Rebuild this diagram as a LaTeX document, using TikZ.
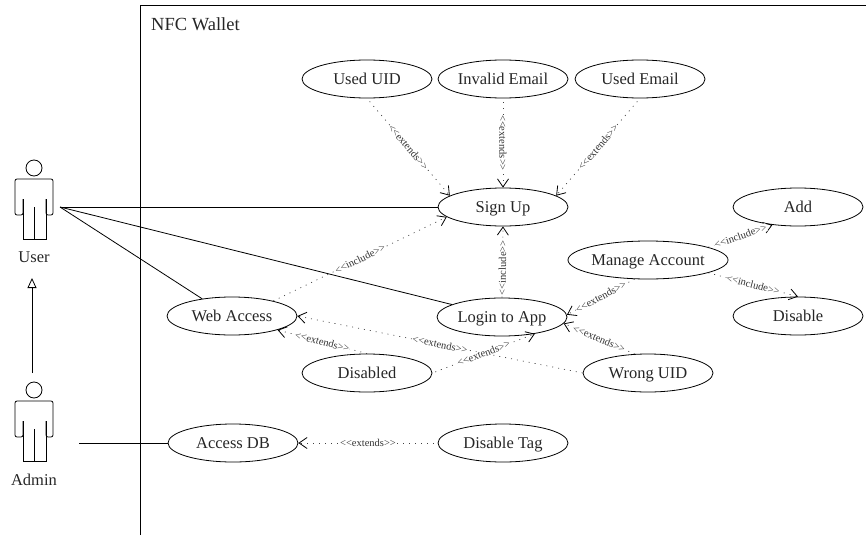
\documentclass[tikz,border=0pt]{standalone}
\usepackage{fontspec}
\setmainfont{Liberation Serif}
\usetikzlibrary{arrows.meta,shapes.geometric}
\tikzset{
  usecase/.style={ellipse, draw, line width=0.8pt, minimum width=130pt, minimum height=38pt, inner sep=0pt, text height=12pt, text depth=2pt, font=\fontsize{16.5}{18}\selectfont, text=black!85},
  actorname/.style={font=\fontsize{16.5}{18}\selectfont, text=black!85, inner sep=0pt},
  assoc/.style={line width=0.8pt},
  dep/.style={line width=0.7pt, black!75, dash pattern=on 1pt off 5pt, -{Straight Barb[length=8pt,width=11pt,black,line width=0.8pt]}},
  stereo/.style={midway, sloped, fill=white, inner sep=0.3pt, font=\fontsize{10.5}{11}\selectfont, text=black!80},
}
\newcommand{\extlabel}{{<}{<}extends{>}{>}}
\newcommand{\inclabel}{{<}{<}include{>}{>}}
\newcommand{\actorbody}[1]{
  \draw[line width=0.8pt] (34,#1) circle (8);
  \draw[line width=0.8pt, rounded corners=2pt] (23,#1+31) -- (23,#1+47) -- (15,#1+47) -- (15,#1+11) -- (53,#1+11) -- (53,#1+47) -- (46,#1+47) -- (46,#1+31);
  \draw[line width=0.8pt] (23,#1+31) -- (23,#1+71) -- (46,#1+71) -- (46,#1+31);
  \draw[line width=0.8pt] (34,#1+39) -- (34,#1+71);
}
\begin{document}
\begin{tikzpicture}[x=1pt, y=-1pt]
\useasboundingbox (0,0) rectangle (866,535);
% frame
\draw[line width=0.8pt] (140,535) -- (140,5) -- (866,5);
\node[actorname, anchor=west, font=\fontsize{18.5}{20}\selectfont] (wallet) at (151,24) {NFC Wallet};
% actors
\actorbody{168}
\actorbody{390}
\node[actorname] (user) at (34,257) {User};
\node[actorname] (admin) at (34,480) {Admin};
\coordinate (userport) at (60,207);
\coordinate (adminport) at (79,443);
\coordinate (adminhead) at (32,373);
\coordinate (userfoot) at (32,278);
% use cases
\node[usecase] (useduid) at (367,79) {Used UID};
\node[usecase] (invalidemail) at (503,79) {Invalid Email};
\node[usecase] (usedemail) at (640,79) {Used Email};
\node[usecase] (signup) at (503,207) {Sign Up};
\node[usecase] (webaccess) at (232,316) {Web Access};
\node[usecase] (login) at (502,317) {Login to App};
\node[usecase] (manage) at (648,260) {Manage Account};
\node[usecase] (add) at (798,207) {Add};
\node[usecase] (disable) at (798,316) {Disable};
\node[usecase] (disabled) at (367,373) {Disabled};
\node[usecase] (wronguid) at (648,373) {Wrong UID};
\node[usecase] (accessdb) at (233,443) {Access DB};
\node[usecase] (disabletag) at (503,443) {Disable Tag};
% associations
\draw[assoc] (userport) -- (signup);
\draw[assoc] (userport) -- (login.166);
\draw[assoc] (userport) -- (webaccess.150);
\draw[assoc] (adminport) -- (accessdb);
\draw[assoc, -{Triangle[open,length=10pt,width=9pt]}] (adminhead) -- (userfoot);
% dependencies
\draw[dep, shorten <=4pt] (useduid.south) -- node[stereo] {\extlabel} (signup.168);
\draw[dep, shorten <=4pt] (invalidemail.south) -- node[stereo, allow upside down] {\extlabel} (signup.north);
\draw[dep, shorten <=4pt] (usedemail.south) -- node[stereo] {\extlabel} (signup.12);
\draw[dep] (webaccess.20) -- node[stereo] {\inclabel} (signup.190);
\draw[dep] (login.north) -- node[stereo, pos=.42] {\inclabel} (signup.south);
\draw[dep] (manage.235) -- node[stereo] {\extlabel} (login.2);
\draw[dep] (wronguid.125) -- node[stereo] {\extlabel} (login.-6);
\draw[dep] (wronguid.west) -- node[stereo] {\extlabel} (webaccess.east);
\draw[dep] (disabled.north) -- node[stereo] {\extlabel} (webaccess.-17);
\draw[dep, shorten <=3pt] (disabled.east) -- node[stereo] {\extlabel} (login.-27);
\draw[dep, shorten <=4pt] (disabletag.west) -- node[stereo] {\extlabel} (accessdb.east);
\draw[dep] (manage.12) -- node[stereo] {\inclabel} (add.215);
\draw[dep] (manage.-12) -- node[stereo] {\inclabel} (disable.north);
\end{tikzpicture}
\end{document}
